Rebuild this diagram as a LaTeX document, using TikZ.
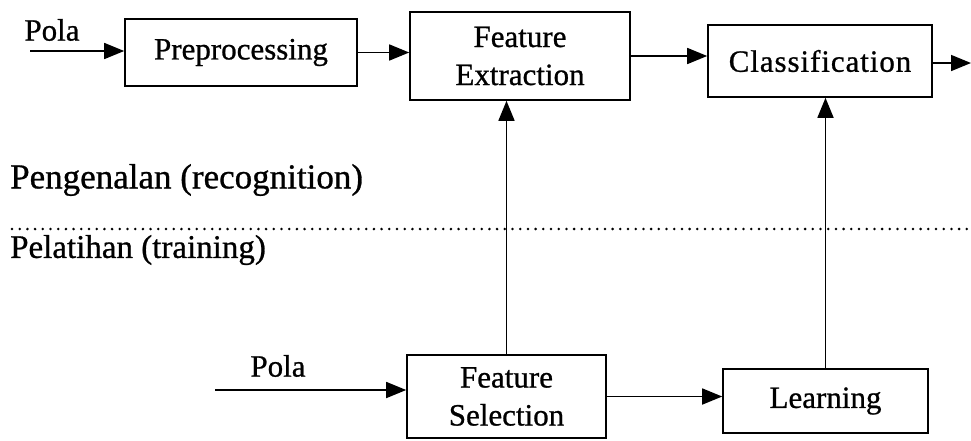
\documentclass[tikz,border=0pt]{standalone}
\usepackage{fontspec}
\setmainfont{Liberation Serif}[FakeBold=0.8,AutoFakeBold=0.8]
\newfontfamily\spacedserif{Liberation Serif}[LetterSpace=3,FakeBold=0.8]
\usetikzlibrary{arrows.meta}

\tikzset{
  block/.style={draw, line width=1.6pt, align=center, inner sep=0pt,
    font=\fontsize{31}{38}\selectfont\bfseries},
  flow/.style={line width=1.6pt, -{Triangle[length=20pt,width=16pt]}},
  label/.style={inner sep=0pt, font=\fontsize{31}{38}\selectfont\bfseries},
  phase/.style={inner sep=0pt, anchor=west},
  divider/.style={line width=2.8pt, line cap=round, dash pattern=on 0pt off 7.7pt}
}

\begin{document}
\begin{tikzpicture}[x=1pt,y=-1pt]
  \useasboundingbox (0,0) rectangle (971,440);

  % recognition path
  \node[block, minimum width=232pt, minimum height=67pt] (pre) at (241,52.5) {Preprocessing};
  \node[block, minimum width=220pt, minimum height=88pt] (fe) at (520,56) {Feature\\Extraction};
  \node[block, minimum width=224pt, minimum height=72pt,
        font=\fontsize{31}{38}\selectfont\spacedserif] (cls) at (820,61) {Classification};

  % training path
  \node[block, minimum width=199pt, minimum height=83pt] (fs) at (506.5,396.5) {Feature\\Selection};
  \node[block, minimum width=205pt, minimum height=64pt] (learn) at (825.5,401) {Learning};

  % inputs and labels
  \node[label] (pola1) at (52,30) {Pola};
  \node[label] (pola2) at (278,366) {Pola};
  \coordinate (in1) at (30,51);
  \coordinate (in2) at (215,390);
  \coordinate (out) at (971,63);

  \node[phase, font=\fontsize{35}{40}\selectfont\bfseries] (recog) at (10,180) {Pengenalan (recognition)};
  \node[phase, font=\fontsize{33}{40}\selectfont\bfseries] (train) at (10,250) {Pelatihan (training)};

  % boundary between the two phases
  \coordinate (divL) at (12,229);
  \coordinate (divR) at (971,229);
  \draw[divider] (divL) -- (divR);

  % connectors
  \draw[flow] (in1) -- (in1 -| pre.west);
  \draw[flow] (pre.east) -- (pre.east -| fe.west);
  \draw[flow] (fe.east) -- (fe.east -| cls.west);
  \draw[flow] (cls.east |- out) -- (out);
  \draw[flow] (in2) -- (in2 -| fs.west);
  \draw[flow] (fs.east) -- (fs.east -| learn.west);
  \draw[flow] (fs.north) -- (fs.north |- fe.south);
  \draw[flow] (learn.north) -- (learn.north |- cls.south);
\end{tikzpicture}
\end{document}
